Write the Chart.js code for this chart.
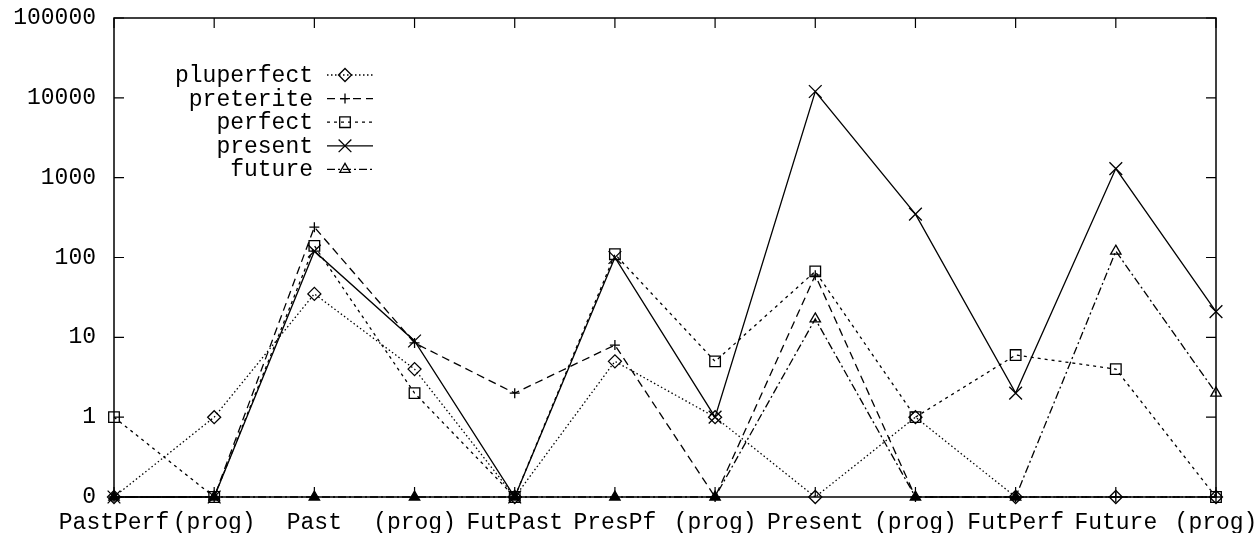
<!DOCTYPE html>
<html>
<head>
<meta charset="utf-8">
<script src="https://cdn.jsdelivr.net/npm/chart.js@4/dist/chart.umd.min.js"></script>
<style>
  html, body { margin: 0; padding: 0; background: #fff; }
  #c { display: block; }
</style>
</head>
<body>
<canvas id="c" width="1257" height="533"></canvas>
<script>
// ---- data (0 means "none", drawn at the log-axis floor labelled 0)
const categories = ['PastPerf', '(prog)', 'Past', '(prog)', 'FutPast', 'PresPf', '(prog)', 'Present', '(prog)', 'FutPerf', 'Future', '(prog)'];
const pluperfect = [0, 1, 35, 4, 0, 5, 1, 0, 1, 0, 0, 0];
const preterite  = [0, 0, 240, 8.5, 2, 8, 0, 60, 0, 0, 0, 0];
const perfect    = [1, 0, 140, 2, 0, 110, 5, 67, 1, 6, 4, 0];
const present    = [0, 0, 120, 9, 0, 100, 1, 12000, 350, 2, 1300, 21];
const future     = [0, 0, 0, 0, 0, 0, 0, 17, 0, 0, 120, 2];
const seriesNames = ['pluperfect', 'preterite', 'perfect', 'present', 'future'];
const yTickValues = [0.1, 1, 10, 100, 1000, 10000, 100000];
const yTickLabels = ['0', '1', '10', '100', '1000', '10000', '100000'];
const ZERO_FLOOR = 0.1;

const FONT = '"Courier New", "Nimbus Mono PS", "FreeMono", "Liberation Mono", monospace';
const FS = 23;

const styles = [
  { dash: [1.5, 2.5], point: 'rectRot', r: 6.5 },
  { dash: [8, 5],     point: 'cross',   r: 5 },
  { dash: [3, 4],     point: 'rect',    r: 7.5 },
  { dash: [],         point: 'crossRot', r: 9 },
  { dash: [8, 3, 2, 3], point: 'triangle', r: 6 }
];
const seriesData = [pluperfect, preterite, perfect, present, future];

const datasets = seriesData.map((arr, i) => ({
  label: seriesNames[i],
  data: arr.map(v => (v > 0 ? v : ZERO_FLOOR)),
  borderColor: '#000',
  borderWidth: 1.3,
  borderDash: styles[i].dash,
  pointStyle: styles[i].point,
  pointRadius: styles[i].r,
  pointHoverRadius: styles[i].r,
  pointBorderColor: '#000',
  pointBorderWidth: 1.3,
  pointBackgroundColor: (ctx) => (styles[i].point === 'triangle' && arr[ctx.dataIndex] === 0) ? '#000' : 'rgba(0,0,0,0)',
  fill: false,
  tension: 0,
  clip: false
}));

// frame, inward ticks and in-plot key
const framePlugin = {
  id: 'frame',
  afterDatasetsDraw(chart) {
    const { ctx, chartArea: a, scales } = chart;
    ctx.save();
    ctx.strokeStyle = '#000';
    ctx.lineWidth = 1.5;
    ctx.setLineDash([]);
    ctx.strokeRect(a.left, a.top, a.right - a.left, a.bottom - a.top);
    const tl = 10;
    ctx.lineWidth = 1.2;
    ctx.beginPath();
    scales.x.ticks.forEach((t, idx) => {
      const x = scales.x.getPixelForTick(idx);
      ctx.moveTo(x, a.top); ctx.lineTo(x, a.top + tl);
      ctx.moveTo(x, a.bottom); ctx.lineTo(x, a.bottom - tl);
    });
    yTickValues.forEach(v => {
      const y = scales.y.getPixelForValue(v);
      ctx.moveTo(a.left, y); ctx.lineTo(a.left + tl, y);
      ctx.moveTo(a.right, y); ctx.lineTo(a.right - tl, y);
    });
    ctx.stroke();

    // key
    ctx.font = FS + 'px ' + FONT;
    ctx.fillStyle = '#000';
    ctx.textAlign = 'right';
    ctx.textBaseline = 'middle';
    const textRight = a.left + 199;
    const lineL = a.left + 213, lineR = a.left + 259, markX = a.left + 231;
    chart.data.datasets.forEach((ds, i) => {
      const y = a.top + 57 + i * 23.6;
      ctx.fillText(ds.label, textRight, y + 1);
      ctx.save();
      ctx.lineWidth = 1.3;
      ctx.setLineDash(styles[i].dash);
      ctx.beginPath();
      ctx.moveTo(lineL, y); ctx.lineTo(lineR, y);
      ctx.stroke();
      ctx.restore();
      ctx.save();
      ctx.lineWidth = 1.3;
      ctx.setLineDash([]);
      ctx.strokeStyle = '#000';
      ctx.fillStyle = 'rgba(0,0,0,0)';
      Chart.helpers.drawPoint(ctx, { pointStyle: styles[i].point, radius: styles[i].r, rotation: 0, borderWidth: 1.3 }, markX, y);
      ctx.restore();
    });
    ctx.restore();
  }
};

new Chart(document.getElementById('c'), {
  type: 'line',
  data: { labels: categories, datasets },
  plugins: [framePlugin],
  options: {
    responsive: false,
    animation: false,
    events: [],
    layout: { padding: { top: 18, right: 41, left: 0, bottom: 0 } },
    plugins: { legend: { display: false }, tooltip: { enabled: false } },
    scales: {
      x: {
        type: 'category',
        offset: false,
        grid: { display: false, drawTicks: false },
        border: { display: false },
        ticks: {
          autoSkip: false, maxRotation: 0, minRotation: 0,
          color: '#000', padding: 12,
          font: { family: FONT, size: FS }
        },
        afterFit(s) { s.height = 36; s.paddingLeft = 0; s.paddingRight = 0; }
      },
      y: {
        type: 'logarithmic',
        min: 0.1, max: 100000,
        grid: { display: false, drawTicks: false },
        border: { display: false },
        afterBuildTicks(s) { s.ticks = yTickValues.map(v => ({ value: v })); },
        ticks: {
          color: '#000', padding: 18,
          font: { family: FONT, size: FS },
          callback: (v) => yTickLabels[yTickValues.indexOf(v)] ?? ''
        },
        afterFit(s) { s.width = 114; s.paddingTop = 0; s.paddingBottom = 0; }
      }
    }
  }
});
</script>
</body>
</html>
